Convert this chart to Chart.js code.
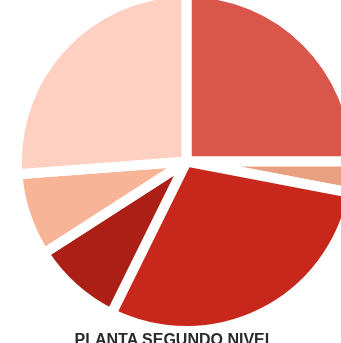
<!DOCTYPE html>
<html>
<head>
<meta charset="utf-8">
<script src="https://cdn.jsdelivr.net/npm/chart.js@4/dist/chart.umd.min.js"></script>
<style>
  html, body { margin: 0; padding: 0; background: #ffffff; overflow: hidden; }
  body { width: 341px; height: 343px; position: relative; }
  #wrap { position: absolute; left: 12px; top: -13px; width: 349px; height: 349px; }
  #title { position: absolute; left: 0; width: 341px; top: 331px; text-align: center;
    font-family: "Liberation Sans", Arial, sans-serif; font-size: 16px; font-weight: bold;
    color: #2a2a2a; letter-spacing: 0px; padding-left: 4px; white-space: nowrap; }
</style>
</head>
<body>
<div id="wrap"><canvas id="c"></canvas></div>
<div id="title">PLANTA SEGUNDO NIVEL</div>
<script>
const categories = ["A", "B", "C", "D", "E", "F"];
const values = [25, 3, 29.3, 8.6, 7.9, 26.2];
const colors = ["#d9574a", "#e9a080", "#c8281c", "#ac1f17", "#f8b496", "#fdd0c2"];

new Chart(document.getElementById("c"), {
  type: "pie",
  data: {
    labels: categories,
    datasets: [{
      data: values,
      backgroundColor: colors,
      borderColor: "#ffffff",
      borderWidth: 10
    }]
  },
  options: {
    responsive: true,
    maintainAspectRatio: false,
    animation: false,
    layout: { padding: 0 },
    plugins: { legend: { display: false }, tooltip: { enabled: false }, title: { display: false } }
  }
});
</script>
</body>
</html>
